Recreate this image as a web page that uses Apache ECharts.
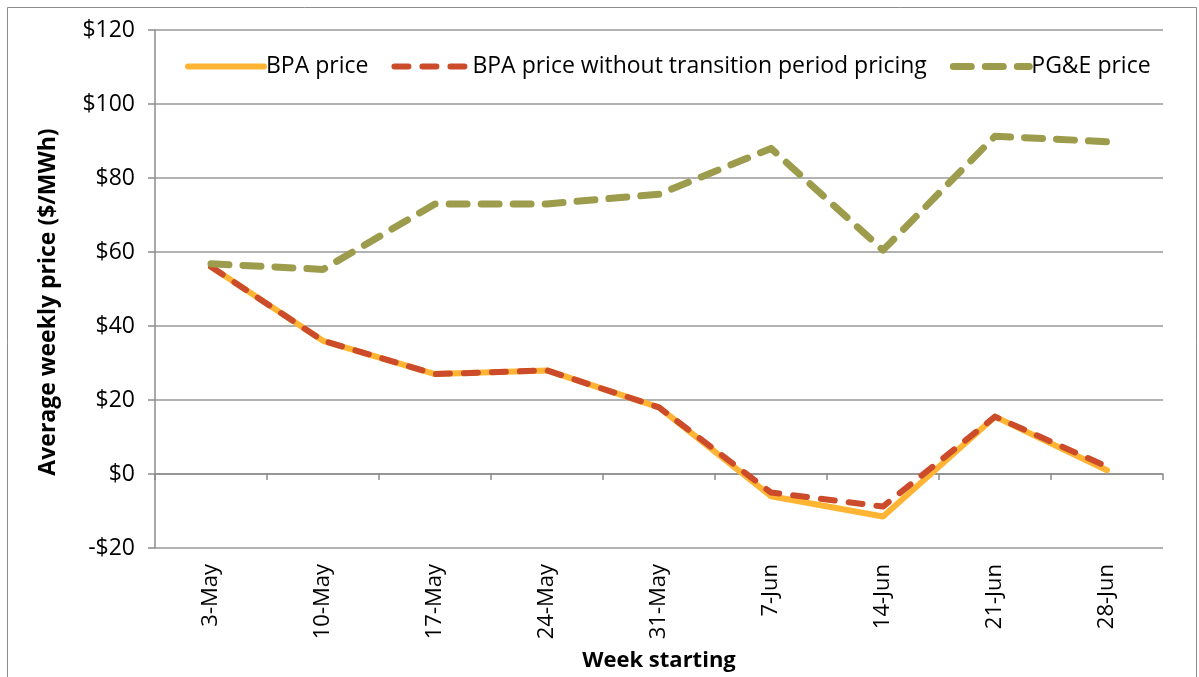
<!DOCTYPE html>
<html><head><meta charset="utf-8">
<script src="https://cdn.jsdelivr.net/npm/echarts@6/dist/echarts.min.js"></script>
<style>html,body{margin:0;padding:0;background:#fff}#c{width:1199px;height:677px}</style>
</head><body><div id="c"></div>
<script>
const categories = ['3-May','10-May','17-May','24-May','31-May','7-Jun','14-Jun','21-Jun','28-Jun'];
const bpaPrice = [56, 36, 27, 28, 18, -6, -11.5, 15.5, 1];
const bpaNoTransition = [56, 36, 27, 28, 18, -5, -8.8, 15.5, 2];
const pgePrice = [56.8, 55.3, 73, 73, 75.6, 88, 60.5, 91.3, 89.8];
const yTicks = {min: -20, max: 120, interval: 20};
const yTitle = 'Average weekly price ($/MWh)';
const xTitle = 'Week starting';

const font = "'Open Sans', 'Noto Sans', sans-serif";
const chart = echarts.init(document.getElementById('c'), null, {renderer: 'canvas'});
chart.setOption({
  animation: false,
  backgroundColor: '#fff',
  graphic: [
    {type: 'rect', shape: {x: 7.5, y: 7.5, width: 1189, height: 700}, style: {fill: 'none', stroke: '#8c8c8c', lineWidth: 1}},
    {type: 'text', x: 48, y: 302, rotation: Math.PI / 2,
      style: {text: yTitle, font: "bold 23px 'Open Sans', sans-serif", fill: '#000', align: 'center', verticalAlign: 'middle'}}
  ],
  grid: {left: 155, right: 36, top: 30, bottom: 129, containLabel: false, outerBoundsMode: 'none'},
  legend: {
    top: 50, left: 180, itemWidth: 76, itemHeight: 8, itemGap: 23,
    itemStyle: {opacity: 0},
    lineStyle: {width: 'inherit', cap: 'round'},
    textStyle: {fontFamily: font, fontSize: 23, color: '#000', padding: [0, 0, 0, -3]},
    data: ['BPA price', 'BPA price without transition period pricing', 'PG&E price']
  },
  xAxis: [{
    type: 'category', data: categories, boundaryGap: true,
    axisLine: {onZero: true, lineStyle: {color: '#8c8c8c', width: 1.5}},
    axisTick: {show: true, alignWithLabel: false, length: 6, lineStyle: {color: '#8c8c8c', width: 1.5}},
    axisLabel: {show: false}, splitLine: {show: false}
  }, {
    type: 'category', data: categories, boundaryGap: true, position: 'bottom',
    axisLine: {show: false, onZero: false}, axisTick: {show: false},
    axisLabel: {rotate: 90, fontFamily: font, fontSize: 22, color: '#000', margin: 16},
    name: xTitle, nameLocation: 'middle', nameGap: 102,
    nameTextStyle: {fontFamily: font, fontSize: 22, fontWeight: 'bold', color: '#000'}
  }],
  yAxis: {
    type: 'value', min: yTicks.min, max: yTicks.max, interval: yTicks.interval,
    axisLine: {show: true, lineStyle: {color: '#8c8c8c', width: 1.5}},
    axisTick: {show: true, length: 7, lineStyle: {color: '#8c8c8c', width: 1.5}},
    splitLine: {lineStyle: {color: '#999', width: 1.5}},
    axisLabel: {fontFamily: font, fontSize: 23, color: '#000', margin: 20,
      formatter: v => (v < 0 ? '-$' + Math.abs(v) : '$' + v)}
  },
  series: [
    {name: 'BPA price', type: 'line', data: bpaPrice, symbol: 'none', color: '#FFB533',
      lineStyle: {width: 6, color: '#FFB533', cap: 'round', join: 'round'}},
    {name: 'BPA price without transition period pricing', type: 'line', data: bpaNoTransition, symbol: 'none', color: '#CB4B2A',
      lineStyle: {width: 6, color: '#CB4B2A', type: [14, 14], cap: 'round', join: 'round'}},
    {name: 'PG&E price', type: 'line', data: pgePrice, symbol: 'none', color: '#9C9C4C',
      lineStyle: {width: 7, color: '#9C9C4C', type: [18, 14], cap: 'round', join: 'round'}}
  ]
});
</script></body></html>
